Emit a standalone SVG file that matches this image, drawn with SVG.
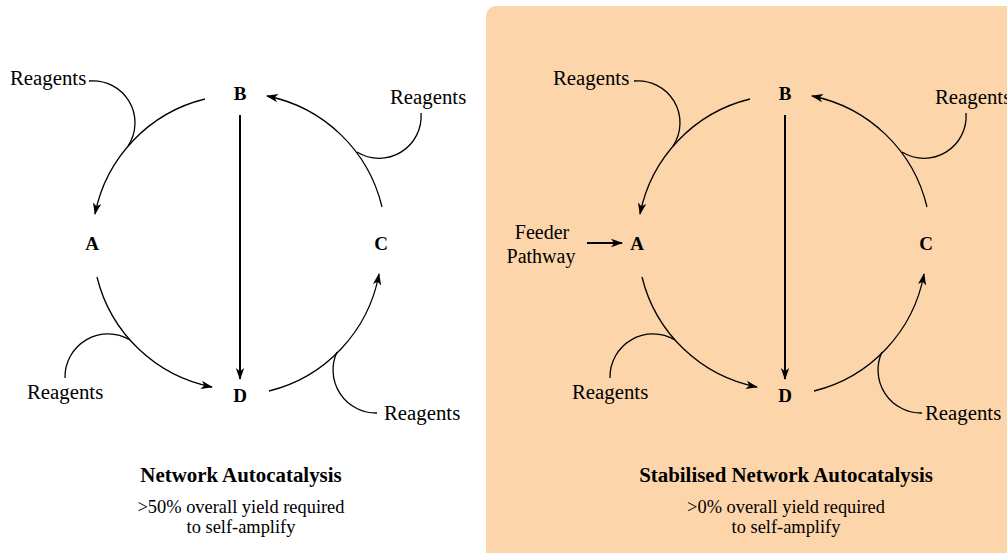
<svg xmlns="http://www.w3.org/2000/svg" width="1007" height="553" viewBox="0 0 1007 553">
<style>
.lbl{font-family:"Liberation Serif","Times New Roman",serif;font-weight:bold;font-size:19px;fill:#000;text-anchor:middle}
.rg{font-family:"Liberation Serif","Times New Roman",serif;font-size:20.8px;fill:#000}
.fd{font-family:"Liberation Serif","Times New Roman",serif;font-size:20px;fill:#000;text-anchor:middle}
.ttl{font-family:"Liberation Serif","Times New Roman",serif;font-weight:bold;font-size:20.9px;fill:#000;text-anchor:middle}
.sub{font-family:"Liberation Serif","Times New Roman",serif;font-size:18.4px;fill:#000;text-anchor:middle}
.arc{fill:none;stroke:#000;stroke-width:1.3;marker-end:url(#ah)}
.curl{fill:none;stroke:#000;stroke-width:1.3}
.thick{fill:none;stroke:#000;stroke-width:2;marker-end:url(#ah2)}
</style>
<defs>
<marker id="ah" viewBox="0 0 12 10" refX="11" refY="5" markerWidth="12" markerHeight="10" markerUnits="userSpaceOnUse" orient="auto">
<path d="M0,0.8 L12,5 L0,9.2 L3.2,5 Z" fill="#000"/>
</marker>
<marker id="ah2" viewBox="0 0 12 10" refX="11" refY="5" markerWidth="12" markerHeight="10" markerUnits="userSpaceOnUse" orient="auto">
<path d="M0,0.8 L12,5 L0,9.2 L3.2,5 Z" fill="#000"/>
</marker>
</defs>
<rect id="panel-bg" x="486" y="6" width="540" height="570" rx="10" ry="10" fill="#FDD5AB"/>

<g id="left-panel">
  <g id="connectors-left">
    <path class="arc" d="M205,99 A148,148 0 0 0 95,214"/>
    <path class="arc" d="M382,207 A148,148 0 0 0 267,96"/>
    <path class="arc" d="M97,277 A148,148 0 0 0 212,387"/>
    <path class="arc" d="M269,391 A148,148 0 0 0 379,274"/>
    <path class="thick" d="M240,115 L240,379"/>
    <path class="curl" d="M89,81 A42,42 0 0 1 128,146"/>
    <path class="curl" d="M421,113 A42,42 0 0 1 357,152"/>
    <path class="curl" d="M65,378 A43,43 0 0 1 130,340"/>
    <path class="curl" d="M337,352 A43,43 0 0 0 377,413"/>
  </g>
  <g id="node-B-left"><text class="lbl" x="240" y="100">B</text></g>
  <g id="node-A-left"><text class="lbl" x="92" y="250">A</text></g>
  <g id="node-C-left"><text class="lbl" x="381" y="250">C</text></g>
  <g id="node-D-left"><text class="lbl" x="240" y="402">D</text></g>
  <g id="reagents-1-left"><text class="rg" x="10" y="85">Reagents</text></g>
  <g id="reagents-2-left"><text class="rg" x="390" y="104">Reagents</text></g>
  <g id="reagents-3-left"><text class="rg" x="27" y="399">Reagents</text></g>
  <g id="reagents-4-left"><text class="rg" x="384" y="420">Reagents</text></g>
  <g id="caption-left">
    <text class="ttl" x="241" y="482">Network Autocatalysis</text>
    <text class="sub" x="241" y="513">&gt;50% overall yield required</text>
    <text class="sub" x="241" y="533">to self-amplify</text>
  </g>
</g>

<g id="right-panel">
  <g id="connectors-right" transform="translate(545,0)">
    <path class="arc" d="M205,99 A148,148 0 0 0 95,214"/>
    <path class="arc" d="M382,207 A148,148 0 0 0 267,96"/>
    <path class="arc" d="M97,277 A148,148 0 0 0 212,387"/>
    <path class="arc" d="M269,391 A148,148 0 0 0 379,274"/>
    <path class="thick" d="M240,115 L240,379"/>
    <path class="curl" d="M89,81 A42,42 0 0 1 128,146"/>
    <path class="curl" d="M421,113 A42,42 0 0 1 357,152"/>
    <path class="curl" d="M65,378 A43,43 0 0 1 130,340"/>
    <path class="curl" d="M337,352 A43,43 0 0 0 377,413"/>
    <path class="thick" d="M42,243 L77,243"/>
  </g>
  <g id="node-B-right"><text class="lbl" x="785" y="100">B</text></g>
  <g id="node-A-right"><text class="lbl" x="637" y="250">A</text></g>
  <g id="node-C-right"><text class="lbl" x="926" y="250">C</text></g>
  <g id="node-D-right"><text class="lbl" x="785" y="402">D</text></g>
  <g id="reagents-1-right"><text class="rg" x="553" y="85">Reagents</text></g>
  <g id="reagents-2-right"><text class="rg" x="935" y="104">Reagents</text></g>
  <g id="reagents-3-right"><text class="rg" x="572" y="399">Reagents</text></g>
  <g id="reagents-4-right"><text class="rg" x="925" y="420">Reagents</text></g>
  <g id="node-feeder">
    <text class="fd" x="542" y="239">Feeder</text>
    <text class="fd" x="541" y="263">Pathway</text>
  </g>
  <g id="caption-right">
    <text class="ttl" x="786" y="482">Stabilised Network Autocatalysis</text>
    <text class="sub" x="786" y="513">&gt;0% overall yield required</text>
    <text class="sub" x="786" y="533">to self-amplify</text>
  </g>
</g>
</svg>
